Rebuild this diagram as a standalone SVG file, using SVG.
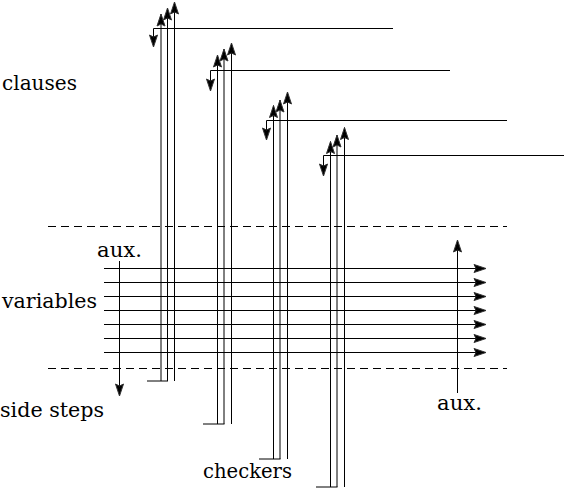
<svg xmlns="http://www.w3.org/2000/svg" width="564" height="488" viewBox="0 0 564 488">
<style>
.ln{fill:none;stroke:#000;stroke-width:1}
.ar{fill:none;stroke:#000;stroke-width:1;marker-end:url(#ah)}
.dash{fill:none;stroke:#000;stroke-width:1;stroke-dasharray:8 5}
.lbl{font-family:'DejaVu Serif','Liberation Serif',serif;font-size:20px;fill:#000}
</style>
<defs>
<marker id="ah" markerUnits="userSpaceOnUse" markerWidth="14" markerHeight="10" refX="12" refY="4.5" orient="auto" overflow="visible">
<path d="M0,0.5 L12,4.5 L0,8.5 L2,4.5 z" fill="#000" stroke="#333" stroke-width="1"/>
</marker>
</defs>
<g id="dividers">
<line class="dash" x1="48" y1="226.5" x2="507" y2="226.5"/>
<line class="dash" x1="48" y1="368.5" x2="507" y2="368.5"/>
</g>
<g id="labels">
<text class="lbl" x="2" y="90" textLength="75" lengthAdjust="spacingAndGlyphs">clauses</text>
<text class="lbl" x="2" y="308" textLength="95" lengthAdjust="spacingAndGlyphs">variables</text>
<text class="lbl" x="0" y="417" textLength="104" lengthAdjust="spacingAndGlyphs">side steps</text>
<text class="lbl" x="203" y="478" textLength="89" lengthAdjust="spacingAndGlyphs">checkers</text>
<text class="lbl" x="97" y="257" textLength="45" lengthAdjust="spacingAndGlyphs">aux.</text>
<text class="lbl" x="437" y="410" textLength="45" lengthAdjust="spacingAndGlyphs">aux.</text>
</g>
<g id="connectors">
<g id="variables">
<line class="ar" x1="104" y1="268.5" x2="486" y2="268.5"/>
<line class="ar" x1="104" y1="282.5" x2="486" y2="282.5"/>
<line class="ar" x1="104" y1="296.5" x2="486" y2="296.5"/>
<line class="ar" x1="104" y1="310.5" x2="486" y2="310.5"/>
<line class="ar" x1="104" y1="324.5" x2="486" y2="324.5"/>
<line class="ar" x1="104" y1="338.5" x2="486" y2="338.5"/>
<line class="ar" x1="104" y1="352.5" x2="486" y2="352.5"/>
</g>
<g id="aux">
<line class="ar" x1="119.5" y1="261" x2="119.5" y2="396"/>
<line class="ar" x1="457.5" y1="393" x2="457.5" y2="240"/>
</g>
<g id="clause1">
<path class="ar" d="M393,28.5 H153.5 V47"/>
<line class="ar" x1="161" y1="381" x2="161" y2="14"/>
<line class="ar" x1="167.5" y1="381" x2="167.5" y2="8"/>
<line class="ar" x1="174.5" y1="381" x2="174.5" y2="2"/>
<line class="ln" x1="147" y1="381" x2="168" y2="381"/>
</g>
<g id="clause2">
<path class="ar" d="M450,70.5 H210.5 V91"/>
<line class="ar" x1="217.5" y1="424" x2="217.5" y2="55"/>
<line class="ar" x1="224" y1="424" x2="224" y2="49"/>
<line class="ar" x1="231.5" y1="424" x2="231.5" y2="43"/>
<line class="ln" x1="203" y1="424" x2="224.5" y2="424"/>
</g>
<g id="clause3">
<path class="ar" d="M507,120.5 H266.5 V140"/>
<line class="ar" x1="273.5" y1="459" x2="273.5" y2="105.5"/>
<line class="ar" x1="280" y1="459" x2="280" y2="100"/>
<line class="ar" x1="287.5" y1="459" x2="287.5" y2="92"/>
<line class="ln" x1="259" y1="459" x2="280.5" y2="459"/>
</g>
<g id="clause4">
<path class="ar" d="M564,155.5 H323.5 V176"/>
<line class="ar" x1="330.5" y1="487" x2="330.5" y2="141.5"/>
<line class="ar" x1="337" y1="487" x2="337" y2="135"/>
<line class="ar" x1="344.5" y1="487" x2="344.5" y2="127.5"/>
<line class="ln" x1="316" y1="487" x2="337.5" y2="487"/>
</g>
</g>
</svg>
